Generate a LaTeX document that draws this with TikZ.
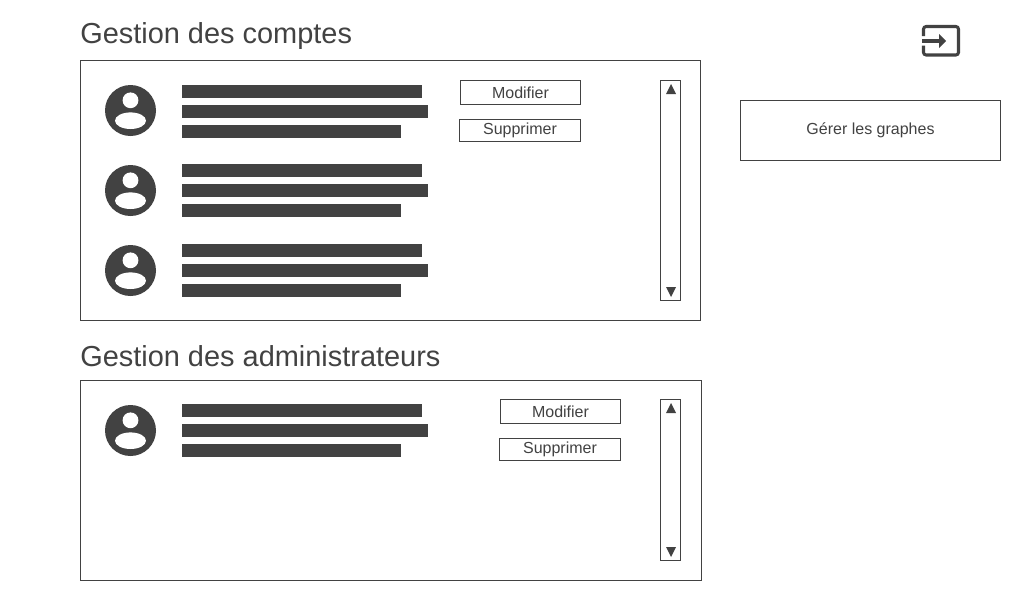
\documentclass[tikz,border=0pt]{standalone}
\usepackage{fontspec}
\setmainfont{Liberation Sans}
\usetikzlibrary{positioning}
\definecolor{darkgray}{RGB}{66,66,66}
\tikzset{
    % Panel frame style
    panel/.style={
        rectangle, draw=darkgray, fill=white, line width=0.75pt,
        anchor=north west, inner sep=0pt, outer sep=0pt
    },
    % Button style
    actionbtn/.style={
        panel, text=darkgray, font=\fontsize{12}{14}\selectfont
    },
    % Section title style
    sectiontitle/.style={
        text=darkgray, anchor=west, inner sep=0pt,
        font=\fontsize{21.7}{26}\selectfont
    },
    % Placeholder text bar
    textbar/.style={
        fill=darkgray, draw=none
    },
    % Scroll arrows
    scrollarrow/.style={
        fill=darkgray, draw=none
    },
    % Exit icon strokes
    exiticon/.style={
        draw=darkgray, line width=2.3pt
    }
}
% Round user picture, centre given
\newcommand{\useravatar}[2]{
    \fill[darkgray] (#1,#2) circle (25.5);
    \fill[white] (#1,#2-10.2) circle (7.9);
    \fill[white] (#1,#2+10.2) ellipse (15.5 and 8.3);
}
% Three placeholder lines, top edge given
\newcommand{\textbars}[1]{
    \fill[textbar] (182,#1) rectangle (422,#1+13);
    \fill[textbar] (182,#1+20) rectangle (428,#1+33);
    \fill[textbar] (182,#1+40) rectangle (401,#1+53);
}
% Scroll arrows of one bar, top and bottom
\newcommand{\scrollarrows}[2]{
    \fill[scrollarrow] (666,#1+10) -- (671,#1) -- (676,#1+10) -- cycle;
    \fill[scrollarrow] (666,#2-10) -- (671,#2) -- (676,#2-10) -- cycle;
}
\begin{document}
\begin{tikzpicture}[x=0.75pt,y=-0.75pt]

\useasboundingbox (0,0) rectangle (1024,600);

% Accounts section
\node[sectiontitle] (comptestitle) at (80,36.5) {Gestion des comptes};
\node[panel, minimum width=620*0.75pt, minimum height=260*0.75pt] (comptes) at (80.5,60.5) {};

\useravatar{130.5}{110.5}
\textbars{85}
\useravatar{130.5}{190.5}
\textbars{164}
\useravatar{130.5}{270.5}
\textbars{244}

\node[actionbtn, minimum width=120*0.75pt, minimum height=24*0.75pt] (modifierA) at (460.5,80.5) {Modifier};
\node[actionbtn, minimum width=121*0.75pt, minimum height=22*0.75pt] (supprimerA) at (459.5,119.5) {Supprimer};

\node[panel, minimum width=20*0.75pt, minimum height=220*0.75pt] (scrollA) at (660.5,80.5) {};
\scrollarrows{84}{297}

% Administrators section
\node[sectiontitle] (adminstitle) at (80,356.5) {Gestion des administrateurs};
\node[panel, minimum width=621*0.75pt, minimum height=200*0.75pt] (admins) at (80.5,380.5) {};

\useravatar{130.5}{430.5}
\textbars{404}

\node[actionbtn, minimum width=120*0.75pt, minimum height=24*0.75pt] (modifierB) at (500.5,399.5) {Modifier};
\node[actionbtn, minimum width=121*0.75pt, minimum height=22*0.75pt] (supprimerB) at (499.5,438.5) {Supprimer};

\node[panel, minimum width=20*0.75pt, minimum height=161*0.75pt] (scrollB) at (660.5,399.5) {};
\scrollarrows{403}{557}

% Right column
\node[actionbtn, minimum width=260*0.75pt, minimum height=60*0.75pt] (graphes) at (740.5,100.5) {Gérer les graphes};

% Exit icon
\draw[exiticon, rounded corners=2pt] (923.5,36) -- (923.5,26.5) -- (958.5,26.5) -- (958.5,55) -- (923.5,55) -- (923.5,45.5);
\draw[exiticon] (922,41) -- (940,41);
\fill[darkgray] (939,34) -- (946,41) -- (939,48) -- cycle;

\end{tikzpicture}
\end{document}
